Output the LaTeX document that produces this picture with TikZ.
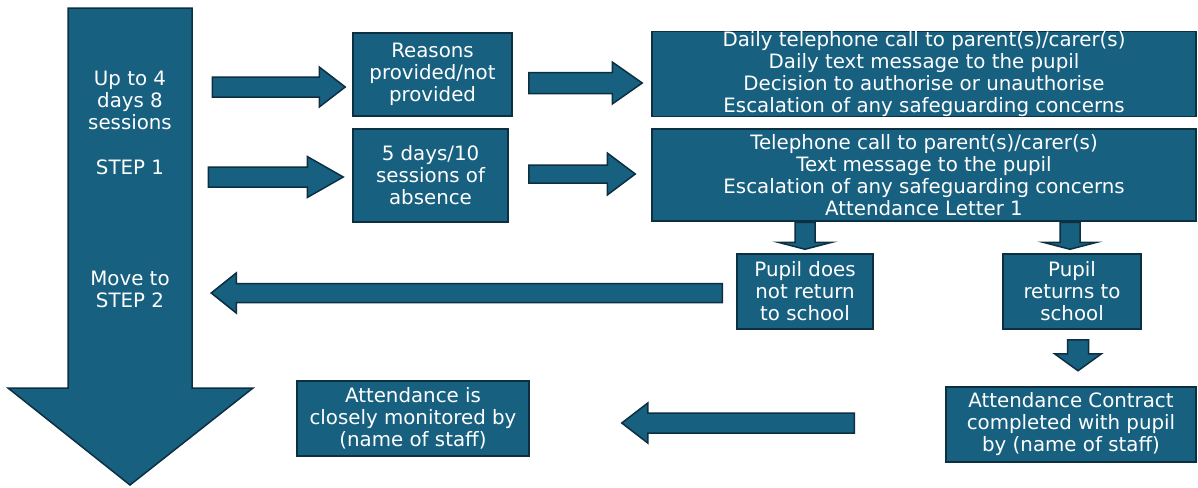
\documentclass[tikz,border=0pt]{standalone}
\usepackage{fontspec}
\setmainfont{DejaVu Sans}
\usetikzlibrary{calc}

\definecolor{boxblue}{RGB}{23,96,128}
\definecolor{boxline}{RGB}{12,48,66}
\def\px{0.5pt}

\tikzstyle{box} = [draw=boxline, fill=boxblue, line width=0.75pt, text=white, align=center, inner sep=0pt, font=\fontsize{9.9}{11}\selectfont]
\tikzstyle{fat} = [draw=boxline, fill=boxblue, line width=0.75pt, line join=miter]
\tikzstyle{steptext} = [text=white, align=center, font=\fontsize{9.9}{11}\selectfont]

\tikzset{
  sw/.store in=\arrsw, hw/.store in=\arrhw, hl/.store in=\arrhl,
  sw=10, hw=20, hl=26,
  fatright/.style={to path={let \p1=(\tikztostart), \p2=(\tikztotarget) in
    (\x1,\y1+\arrsw*\px) -- (\x2-\arrhl*\px,\y1+\arrsw*\px) -- (\x2-\arrhl*\px,\y1+\arrhw*\px) -- (\x2,\y1)
    -- (\x2-\arrhl*\px,\y1-\arrhw*\px) -- (\x2-\arrhl*\px,\y1-\arrsw*\px) -- (\x1,\y1-\arrsw*\px) -- cycle}},
  fatleft/.style={to path={let \p1=(\tikztostart), \p2=(\tikztotarget) in
    (\x1,\y1+\arrsw*\px) -- (\x2+\arrhl*\px,\y1+\arrsw*\px) -- (\x2+\arrhl*\px,\y1+\arrhw*\px) -- (\x2,\y1)
    -- (\x2+\arrhl*\px,\y1-\arrhw*\px) -- (\x2+\arrhl*\px,\y1-\arrsw*\px) -- (\x1,\y1-\arrsw*\px) -- cycle}},
  fatdown/.style={to path={let \p1=(\tikztostart), \p2=(\tikztotarget) in
    (\x1-\arrsw*\px,\y1) -- (\x1-\arrsw*\px,\y2+\arrhl*\px) -- (\x1-\arrhw*\px,\y2+\arrhl*\px) -- (\x1,\y2)
    -- (\x1+\arrhw*\px,\y2+\arrhl*\px) -- (\x1+\arrsw*\px,\y2+\arrhl*\px) -- (\x1+\arrsw*\px,\y1) -- cycle}}
}

\begin{document}
\begin{tikzpicture}[x=0.5pt, y=-0.5pt]
  \useasboundingbox (0,0) rectangle (1198,487);

  % big step arrow on the left
  \draw [fat] (68,8) -- (192,8) -- (192,388) -- (253,388) -- (130,485) -- (8,388) -- (68,388) -- cycle;
  \node [steptext] (upto) at (130,100.5) {Up to 4\\days 8\\sessions};
  \node [steptext] (step1) at (130,167) {STEP 1};
  \node [steptext] (movestep) at (130,289) {Move to\\STEP 2};

  \node [box, minimum width=79.5pt, minimum height=41.5pt] (reasons) at (432.5,74.5) {Reasons\\provided/not\\provided};
  \node [box, minimum width=77.5pt, minimum height=46.5pt] (fivedays) at (430.5,175.5) {5 days/10\\sessions of\\absence};
  \node [box, minimum width=272pt, minimum height=42.5pt] (daily) at (924,74) {Daily telephone call to parent(s)/carer(s)\\Daily text message to the pupil\\Decision to authorise or unauthorise\\Escalation of any safeguarding concerns};
  \node [box, minimum width=272pt, minimum height=46pt] (phone) at (924,175) {Telephone call to parent(s)/carer(s)\\Text message to the pupil\\Escalation of any safeguarding concerns\\Attendance Letter 1};
  \node [box, minimum width=68pt, minimum height=37.5pt] (pupilnot) at (805,291.5) {Pupil does\\not return\\to school};
  \node [box, minimum width=69pt, minimum height=37.5pt] (pupilret) at (1072,291.5) {Pupil\\returns to\\school};
  \node [box, minimum width=125pt, minimum height=37.5pt] (contract) at (1071,424.5) {Attendance Contract\\completed with pupil\\by (name of staff)};
  \node [box, minimum width=116pt, minimum height=37.5pt] (monitored) at (413,418.5) {Attendance is\\closely monitored by\\(name of staff)};

  \draw [fat, sw=10, hw=20, hl=26] ($(reasons.west)+(-140,12.5)$) to[fatright] ($(reasons.west)+(-7,12.5)$);
  \draw [fat, sw=10.5, hw=21, hl=30] ($(reasons.east)+(16,8.5)$) to[fatright] ($(daily.west)+(-9,9)$);
  \draw [fat, sw=10, hw=20.5, hl=36] ($(fivedays.west)+(-144,1.5)$) to[fatright] ($(fivedays.west)+(-9,1.5)$);
  \draw [fat, sw=9, hw=21, hl=28] ($(fivedays.east)+(20,-1.5)$) to[fatright] ($(phone.west)+(-16,-1)$);

  \draw [fat, sw=10, hw=27, hl=7] ($(pupilnot.north)+(0,-31)$) to[fatdown] ($(pupilnot.north)+(0,-4)$);
  \draw [fat, sw=10, hw=27, hl=7] ($(pupilret.north)+(-2,-31)$) to[fatdown] ($(pupilret.north)+(-2,-4)$);
  \draw [fat, sw=10.5, hw=23.5, hl=17] ($(pupilret.south)+(6,10)$) to[fatdown] ($(pupilret.south)+(6,41)$);

  \draw [fat, sw=9.5, hw=20, hl=25] ($(pupilnot.west)+(-14,1.5)$) to[fatleft] ($(pupilnot.west)+(-525,1.5)$);
  \draw [fat, sw=10, hw=20, hl=26] ($(contract.west)+(-91,-1.5)$) to[fatleft] ($(monitored.east)+(92,4.5)$);
\end{tikzpicture}
\end{document}
